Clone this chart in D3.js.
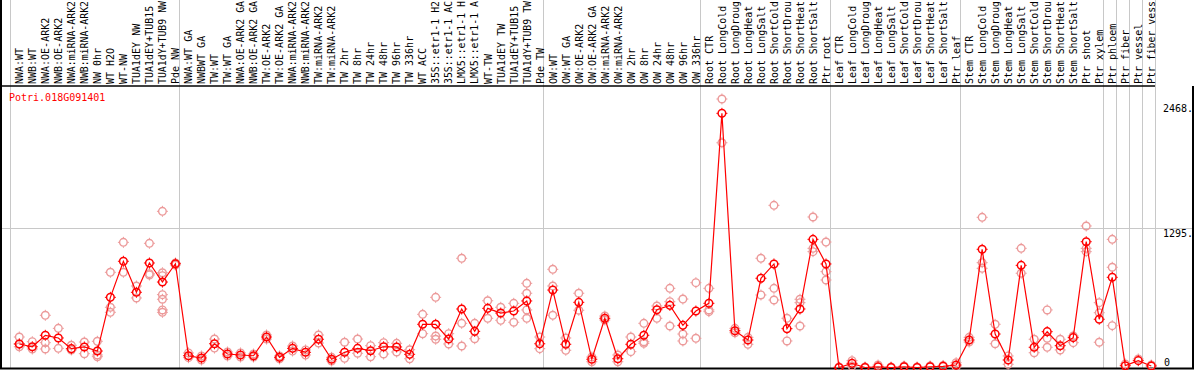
<!DOCTYPE html>
<html>
<head>
<meta charset="utf-8">
<script src="https://cdn.jsdelivr.net/npm/d3@7"></script>
<style>
  body { margin: 0; background: #fff; }
  svg { display: block; }
  text { font-family: "DejaVu Sans Mono", monospace; font-size: 10px; }
</style>
</head>
<body>
<div id="chart"></div>
<script>
// Nom du gène
const titre = "Potri.018G091401";

// Nombre de colonnes par groupe (séparés par les lignes grises)
const tailles_groupes = [13, 28, 12, 10, 10, 11, 1, 1, 1, 1];

// Étiquettes telles qu'affichées (coupées à 14 caractères, comme sur l'image)
const categories = [
  "NWA:WT", "NWB:WT", "NWA:OE-ARK2", "NWB:OE-ARK2", "NWA:miRNA-ARK2", "NWB:miRNA-ARK2", "NW 0hr", "WT H2O", "WT-NW",
  "TUA1dEY NW", "TUA1dEY+TUB15", "TUA1dY+TUB9 NW", "Pde NW",
  "NWA:WT GA", "NWBWT GA", "TW:WT", "TW:WT GA", "NWA:OE-ARK2 GA", "NWB:OE-ARK2 GA", "TW:OE-ARK2", "TW:OE-ARK2 GA",
  "NWA:miRNA-ARK2", "NWB:miRNA-ARK2", "TW:miRNA-ARK2", "TW:miRNA-ARK2", "TW 2hr", "TW 8hr", "TW 24hr", "TW 48hr",
  "TW 96hr", "TW 336hr", "WT ACC", "35S::etr1-1 H2", "35S::etr1-1 AC", "LMX5::etr1-1 H", "LMX5::etr1-1 A",
  "WT-TW", "TUA1dEY TW", "TUA1dEY+TUB15", "TUA1dY+TUB9 TW", "Pde TW",
  "OW:WT", "OW:WT GA", "OW:OE-ARK2", "OW:OE-ARK2 GA", "OW:miRNA-ARK2", "OW:miRNA-ARK2", "OW 2hr", "OW 8hr",
  "OW 24hr", "OW 48hr", "OW 96hr", "OW 336hr",
  "Root CTR", "Root LongCold", "Root LongDroug", "Root LongHeat", "Root LongSalt", "Root ShortCold",
  "Root ShortDrou", "Root ShortHeat", "Root ShortSalt", "Ptr root",
  "Leaf CTR", "Leaf LongCold", "Leaf LongDroug", "Leaf LongHeat", "Leaf LongSalt", "Leaf ShortCold",
  "Leaf ShortDrou", "Leaf ShortHeat", "Leaf ShortSalt", "Ptr leaf",
  "Stem CTR", "Stem LongCold", "Stem LongDroug", "Stem LongHeat", "Stem LongSalt", "Stem ShortCold",
  "Stem ShortDrou", "Stem ShortHeat", "Stem ShortSalt", "Ptr shoot", "Ptr xylem",
  "Ptr phloem", "Ptr fiber", "Ptr vessel", "Ptr fiber vess"
];

// Moyennes (ligne rouge)
const moyennes = [
  220, 194, 301, 276, 176, 192, 154, 656, 993, 703, 977, 799, 970,
  110, 89, 222, 126, 117, 110, 285, 95, 179, 142, 264, 77, 142, 179, 157, 194, 192, 123,
  404, 404, 266, 547, 338, 553, 509, 528, 622, 222,
  724, 217, 609, 77, 460, 82, 217, 301, 540, 581, 394, 528,
  600, 2376, 344, 257, 834, 968, 363, 547, 1198, 968,
  0, 39, 0, 7, 0, 7, 0, 7, 11, 23,
  257, 1105, 313, 70, 955, 189, 335, 204, 279, 1176, 451,
  843, 17, 64, 14
];

// Réplicats (cercles roses)
const replicats = [
  [285, 194, 220], [241, 173], [488, 232, 173], [366, 179], [208, 164], [238, 129], [245, 117, 101],
  [890, 563, 516], [1170, 890], [762, 650], [1161, 877, 865], [1460, 886, 858, 681, 638, 538, 516], [977, 958],
  [92, 136], [70, 108], [266, 182], [145, 108], [136, 98], [126, 98], [304, 266], [108, 80], [201, 154],
  [164, 117], [304, 229], [95, 61], [236, 86], [266, 133], [204, 101], [232, 126], [226, 145], [166, 82],
  [497, 316], [656, 294, 264], [316, 220], [1021, 413, 201], [413, 269], [624, 460], [563, 441], [600, 423],
  [787, 694, 538, 460], [285, 176],
  [918, 762, 488], [161, 276], [694, 535], [54, 98], [481, 444], [117, 54], [285, 148], [413, 241, 226],
  [575, 460], [740, 615, 388], [640, 313, 248], [793, 273],
  [740, 538, 522], [2510, 2101], [366, 325], [282, 217], [1021, 678], [1516, 740, 631], [460, 248],
  [638, 606, 388], [1407, 1114, 1083], [1173, 896, 818],
  [5], [64, 14], [5], [23], [5], [14], [5], [14], [19], [45, 5],
  [282, 238], [1404, 980, 927], [404, 222], [108, 30], [1114, 881], [264, 138], [538, 273, 189], [264, 164],
  [294, 232], [1323, 1114, 1083], [606, 512, 236],
  [1198, 937, 391], [33], [80], [23]
];

const graduations = [0, 1295, 2468];
const etiquettes_graduations = ["0", "1295.", "2468."];

const largeur = 1194, hauteur = 370;
const haut_trace = 86, bas_trace = 368, droite_colonnes = 1155;

const svg = d3.select("#chart").append("svg")
  .attr("width", largeur)
  .attr("height", hauteur);

const x = d3.scaleLinear().domain([0, categories.length]).range([10, droite_colonnes]);
const y = d3.scaleLinear().domain([0, 2468]).range([367.5, 103.5]);
const px = i => x(i) + 9.3;

// Lignes grises entre les groupes
let bornes = [0];
tailles_groupes.forEach(t => bornes.push(bornes[bornes.length - 1] + t));
svg.selectAll(".groupe").data(bornes).join("line")
  .attr("class", "groupe")
  .attr("x1", d => Math.round(x(d)) + 0.5).attr("x2", d => Math.round(x(d)) + 0.5)
  .attr("y1", 0).attr("y2", bas_trace)
  .attr("stroke", "#c8c8c8");

// Ligne grise horizontale à 1295
svg.append("line")
  .attr("x1", 0).attr("x2", largeur)
  .attr("y1", Math.round(y(1295)) - 0.5).attr("y2", Math.round(y(1295)) - 0.5)
  .attr("stroke", "#c8c8c8");

// Cadre noir
svg.append("line").attr("x1", 1).attr("x2", 1).attr("y1", 0).attr("y2", bas_trace + 1).attr("stroke", "black").attr("stroke-width", 2);
svg.append("line").attr("x1", 0).attr("x2", droite_colonnes).attr("y1", haut_trace).attr("y2", haut_trace).attr("stroke", "black").attr("stroke-width", 1.5);
svg.append("line").attr("x1", 0).attr("x2", largeur).attr("y1", bas_trace + 0.5).attr("y2", bas_trace + 0.5).attr("stroke", "black").attr("stroke-width", 2);
svg.append("line").attr("x1", 1193).attr("x2", 1193).attr("y1", haut_trace).attr("y2", bas_trace + 1).attr("stroke", "black").attr("stroke-width", 2);

// Étiquettes des colonnes (verticales)
svg.selectAll(".etiquette").data(categories).join("text")
  .attr("class", "etiquette")
  .attr("transform", (d, i) => "translate(" + (px(i) + 3.8) + "," + 84 + ") rotate(-90)")
  .attr("fill", "black")
  .attr("textLength", d => d.length > 13 ? 83 : null)
  .attr("lengthAdjust", "spacingAndGlyphs")
  .text(d => d);

// Graduations à droite
svg.selectAll(".graduation").data(graduations).join("text")
  .attr("class", "graduation")
  .attr("x", d => d == 0 ? 1164 : 1163)
  .attr("y", d => Math.min(y(d) + 8.5, 366))
  .attr("fill", "black")
  .text((d, i) => etiquettes_graduations[i]);

// Titre
svg.append("text")
  .attr("x", 9).attr("y", 101)
  .attr("fill", "red")
  .text(titre);

// Petites croix autour des cercles
function croix(cx, cy) {
  return "M" + cx + "," + (cy - 5.5) + "v1.5M" + cx + "," + (cy + 4) + "v1.5" +
         "M" + (cx - 5.5) + "," + cy + "h1.5M" + (cx + 4) + "," + cy + "h1.5";
}

// Réplicats
let points_replicats = [];
replicats.forEach((liste, i) => liste.forEach(v => points_replicats.push([i, v])));
const g_rep = svg.append("g");
g_rep.selectAll("circle").data(points_replicats).join("circle")
  .attr("cx", d => px(d[0])).attr("cy", d => y(d[1]))
  .attr("r", 3.8)
  .attr("fill", "none")
  .attr("stroke", "#ec9a9a")
  .attr("stroke-width", 1.4);
g_rep.selectAll("path").data(points_replicats).join("path")
  .attr("d", d => croix(px(d[0]), y(d[1])))
  .attr("stroke", "#ec9a9a")
  .attr("stroke-width", 1);

// Ligne des moyennes
svg.append("path")
  .datum(moyennes)
  .attr("d", d3.line().x((d, i) => px(i)).y(d => y(d)))
  .attr("fill", "none")
  .attr("stroke", "red")
  .attr("stroke-width", 1.2);

// Moyennes
const g_moy = svg.append("g");
g_moy.selectAll("circle").data(moyennes).join("circle")
  .attr("cx", (d, i) => px(i)).attr("cy", d => y(d))
  .attr("r", 3.8)
  .attr("fill", "none")
  .attr("stroke", "red")
  .attr("stroke-width", 1.5);
g_moy.selectAll("path").data(moyennes).join("path")
  .attr("d", (d, i) => croix(px(i), y(d)))
  .attr("stroke", "red")
  .attr("stroke-width", 1);
</script>
</body>
</html>
